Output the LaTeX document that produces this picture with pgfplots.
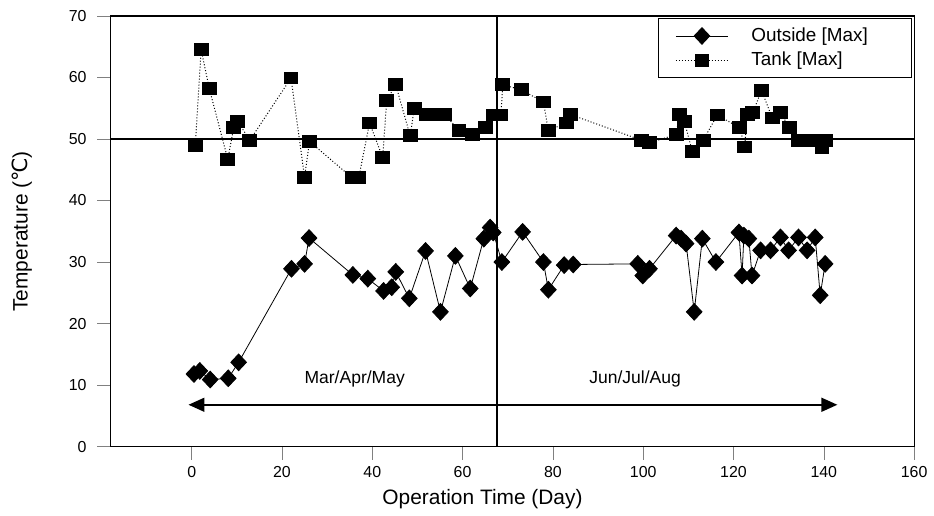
\documentclass[border=0pt]{standalone}
\usepackage{fontspec}
\setmainfont{Liberation Sans}
\newfontfamily\dejavu{DejaVu Sans}
\usepackage{pgfplots}
\pgfplotsset{compat=1.18}
\usetikzlibrary{arrows.meta}

\begin{document}
\begin{tikzpicture}
\begin{axis}[
  scale only axis,
  width=404pt, height=216.5pt,
  xmin=-18, xmax=160, ymin=0, ymax=70,
  xtick={0,20,...,160}, ytick={0,10,...,70},
  tick align=outside, tick pos=left,
  major tick length=6.5pt,
  axis line style={line width=0.6pt},
  /pgf/number format/assume math mode=true,
  ticklabel style={font=\fontsize{8}{9}\selectfont},
  yticklabel style={xshift=-2pt},
  xlabel={Operation Time (Day)},
  ylabel={Temperature ({\dejavu ℃})},
  label style={font=\fontsize{10.5}{12}\selectfont},
  xlabel style={at={(axis description cs:0.463,-0.122)}, anchor=center},
  ylabel style={at={(axis description cs:-0.110,0.5)}, anchor=center},
  legend style={at={(rel axis cs:1,0.995)}, xshift=-1pt, anchor=north east,
    font=\fontsize{9.5}{11}\selectfont, draw=black, line width=0.6pt,
    cells={anchor=west}, row sep=0pt, inner xsep=8.5pt, inner ysep=2.5pt,
    /tikz/every odd column/.append style={column sep=9.5pt}},
  legend image code/.code={
    \draw[mark repeat=2, mark phase=2] plot coordinates {(0cm,0cm) (0.46cm,0cm) (0.92cm,0cm)};
  },
]

\addplot[black, line width=0.4pt, mark=diamond*, mark size=4.2pt,
  mark options={solid, xscale=1.25}] coordinates {
  (0.5,11.8) (1.8,12.3) (4.1,10.9) (8.1,11.1) (10.4,13.7)
  (22.1,28.9) (25,29.7) (26,33.9) (35.7,27.9) (39,27.3)
  (42.5,25.3) (44.3,25.9) (45.2,28.4) (48.2,24.1) (51.8,31.8)
  (55.1,21.9) (58.4,31) (61.7,25.7) (64.7,33.8) (66.1,35.6)
  (66.8,34.8) (68.7,30) (73.3,34.9) (77.9,30) (79,25.5)
  (82.5,29.5) (84.5,29.6) (98.8,29.7) (99.9,27.8) (101.4,28.9)
  (107.3,34.3) (108.4,33.8) (109.5,33) (111.3,21.9) (113.1,33.8)
  (116.1,30) (121.2,34.8) (121.9,27.8) (122.3,34.3) (123.4,33.8)
  (124.1,27.8) (126,31.9) (128.2,31.9) (130.4,34) (132.2,31.9)
  (134.4,34) (136.3,31.9) (138.1,34) (139.2,24.6) (140.3,29.7)
};
\addlegendentry{\makebox[70pt][l]{Outside [Max]}}

\addplot[black, densely dotted, line width=0.5pt, mark=square*, mark size=3.5pt,
  mark options={solid, yscale=0.85}] coordinates {
  (0.8,49.0) (2.1,64.5) (3.9,58.2) (8.0,46.7) (9.3,51.8) (10.2,52.8)
  (12.9,49.8) (22,59.9) (25,43.8) (26.1,49.6) (35.5,43.7) (37,43.7)
  (39.4,52.6) (42.3,47) (43.2,56.3) (45.2,58.8) (48.4,50.5) (49.3,55)
  (52,54) (54,54) (56,54) (59.2,51.4) (62.1,50.7) (65,51.8)
  (66.9,53.9) (68.5,53.9) (68.9,58.8) (73,58) (77.9,56) (79,51.4)
  (83,52.6) (83.8,54) (99.6,49.8) (101.4,49.4) (107.3,50.7) (108,54)
  (109.1,52.9) (110.9,47.9) (113.3,49.8) (116.4,53.9) (121.4,51.8)
  (122.5,48.7) (123,54) (124.3,54.3) (126.2,57.9) (128.6,53.4)
  (130.4,54.3) (132.4,51.8) (134.4,49.8) (136.1,49.8) (138,49.8)
  (139.6,48.6) (140.3,49.8)
};
\addlegendentry{Tank [Max]}

% reference lines
\draw[black, line width=0.6pt] (axis cs:-18,50) -- (axis cs:160,50);
\draw[black, line width=0.9pt] (axis cs:67.6,0) -- (axis cs:67.6,70);

% season arrow and labels
\draw[black, line width=0.8pt, {Triangle[length=8pt,width=7pt]}-{Triangle[length=8pt,width=7pt]}]
  (axis cs:-0.7,6.8) -- (axis cs:143,6.8);
\node[font=\fontsize{8.8}{10}\selectfont] at (axis cs:36.1,11) {Mar/Apr/May};
\node[font=\fontsize{8.8}{10}\selectfont] at (axis cs:98.2,11) {Jun/Jul/Aug};
\end{axis}
\path ([shift={(-55.5pt,-34.5pt)}]current axis.south west) rectangle ([shift={(7.5pt,8pt)}]current axis.north east);
\end{tikzpicture}
\end{document}
